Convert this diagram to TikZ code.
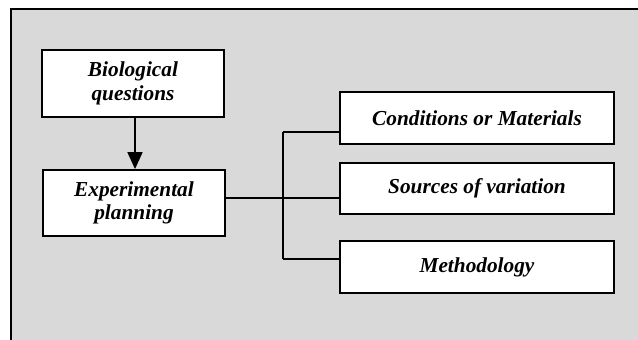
\documentclass[tikz,border=0pt]{standalone}
\usepackage{fontspec}
\setmainfont{Liberation Serif}
\usetikzlibrary{arrows.meta}
\begin{document}
\begin{tikzpicture}[x=1bp,y=-1bp,
  box/.style={draw=black,line width=1.8bp,fill=white,inner sep=0pt,
    font=\fontsize{21.4}{23.5}\selectfont\bfseries\itshape,align=center},
  link/.style={draw=black,line width=1.8bp}]
  \useasboundingbox (0,0) rectangle (638,339);
  % grey panel, its right and bottom edges run off the page
  \fill[fill={rgb,255:red,217;green,217;blue,217}] (11,9) rectangle (645,345);
  \draw[line width=1.6bp] (11,345) -- (11,9) -- (645,9);
  % left column
  \node[box,minimum width=182bp,minimum height=67bp] (bio) at (133,83.5) {Biological\\questions};
  \node[box,minimum width=182bp,minimum height=66bp] (exp) at (134,203) {Experimental\\planning};
  % right column
  \node[box,minimum width=274bp,minimum height=52bp] (cond) at (477,118) {Conditions or Materials};
  \node[box,minimum width=274bp,minimum height=51bp] (src) at (477,188.5) {Sources of variation};
  \node[box,minimum width=274bp,minimum height=52bp] (meth) at (477,267) {Methodology};
  % connectors
  \coordinate (fork) at (283,198);
  \coordinate (ftop) at (283,132);
  \coordinate (fbot) at (283,259);
  \draw[link,-{Triangle[width=15bp,length=17bp]}] (bio.south -| 135,0) -- (exp.north -| 135,0);
  \draw[link] (exp.east |- fork) -- (fork);
  \draw[link] (ftop) -- (fbot);
  \draw[link] (ftop) -- (cond.west |- ftop);
  \draw[link] (fork) -- (src.west |- fork);
  \draw[link] (fbot) -- (meth.west |- fbot);
\end{tikzpicture}
\end{document}
